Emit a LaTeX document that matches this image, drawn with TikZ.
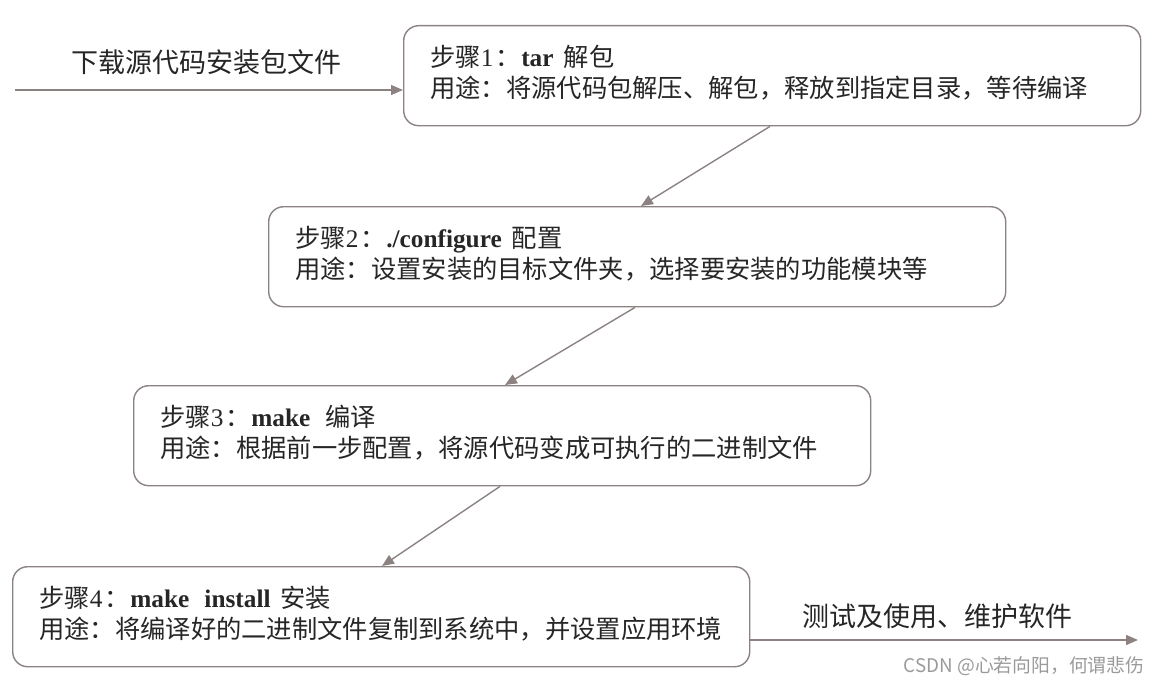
\documentclass[tikz,border=0pt]{standalone}
\usepackage{fontspec}
\setmainfont{Liberation Serif}
\newfontfamily\cjk{Noto Sans CJK SC}
\usetikzlibrary{arrows.meta}
\definecolor{edgegray}{HTML}{8C8282}
\definecolor{txt}{HTML}{262626}
\definecolor{wm}{HTML}{9A9A9A}
\tikzset{
  stepbox/.style={draw=edgegray, line width=1.4pt, rounded corners=15pt, minimum width=737pt, minimum height=100pt, anchor=north west, inner sep=0pt, fill=white},
  boxtext/.style={anchor=base west, inner sep=0pt, text=txt, font=\fontsize{25.3}{30}\selectfont},
  lbl/.style={anchor=center, inner sep=0pt, text=txt, font=\fontsize{27}{32}\selectfont\cjk},
  arr/.style={draw=edgegray, line width=1.4pt, -{Triangle[length=12pt,width=10pt]}},
}
\begin{document}
\begin{tikzpicture}[x=1pt,y=-1pt]
\useasboundingbox (0,0) rectangle (1165,685);
% boxes
\node[stepbox] (b1) at (403,25) {};
\node[stepbox] (b2) at (268,206) {};
\node[stepbox] (b3) at (133,385) {};
\node[stepbox] (b4) at (12,566) {};
% texts
\node[boxtext] (t1a) at (430,66.5) {{\cjk 步骤}1\hspace{0.1em}{\cjk ：}\textbf{tar}\hspace{0.4em}{\cjk 解包}};
\node[boxtext] (t1b) at (430,97.5) {\cjk 用途：将源代码包解压、解包，释放到指定目录，等待编译};
\node[boxtext] (t2a) at (295,247.5) {{\cjk 步骤}2\hspace{0.1em}{\cjk ：}\textbf{./configure}\hspace{0.4em}{\cjk 配置}};
\node[boxtext] (t2b) at (295,278.5) {\cjk 用途：设置安装的目标文件夹，选择要安装的功能模块等};
\node[boxtext] (t3a) at (160,426.5) {{\cjk 步骤}3\hspace{0.1em}{\cjk ：}\textbf{make}\hspace{0.6em}{\cjk 编译}};
\node[boxtext] (t3b) at (160,457.5) {\cjk 用途：根据前一步配置，将源代码变成可执行的二进制文件};
\node[boxtext] (t4a) at (39,607.5) {{\cjk 步骤}4\hspace{0.1em}{\cjk ：}\textbf{make}\hspace{0.6em}\textbf{install}\hspace{0.4em}{\cjk 安装}};
\node[boxtext] (t4b) at (39,638.5) {\cjk 用途：将编译好的二进制文件复制到系统中，并设置应用环境};
% connectors between boxes
\draw[arr] ([xshift=367pt]b1.south west) -- ([xshift=373pt]b2.north west);
\draw[arr] ([xshift=367pt]b2.south west) -- ([xshift=372pt]b3.north west);
\draw[arr] ([xshift=367pt]b3.south west) -- ([xshift=370pt]b4.north west);
% in / out arrows
\coordinate (in) at (15,90);
\coordinate (out) at (1138,640);
\draw[arr] (in) -- (in -| b1.west);
\draw[arr] (out -| b4.east) -- (out);
\node[lbl] (lin) at (206,62) {下载源代码安装包文件};
\node[lbl] (lout) at (937,616) {测试及使用、维护软件};
% watermark
\node[anchor=center, inner sep=0pt, text=wm, font=\fontsize{18.8}{22}\selectfont\cjk] (wmk) at (1024,666) {CSDN @心若向阳，何谓悲伤};
\end{tikzpicture}
\end{document}
